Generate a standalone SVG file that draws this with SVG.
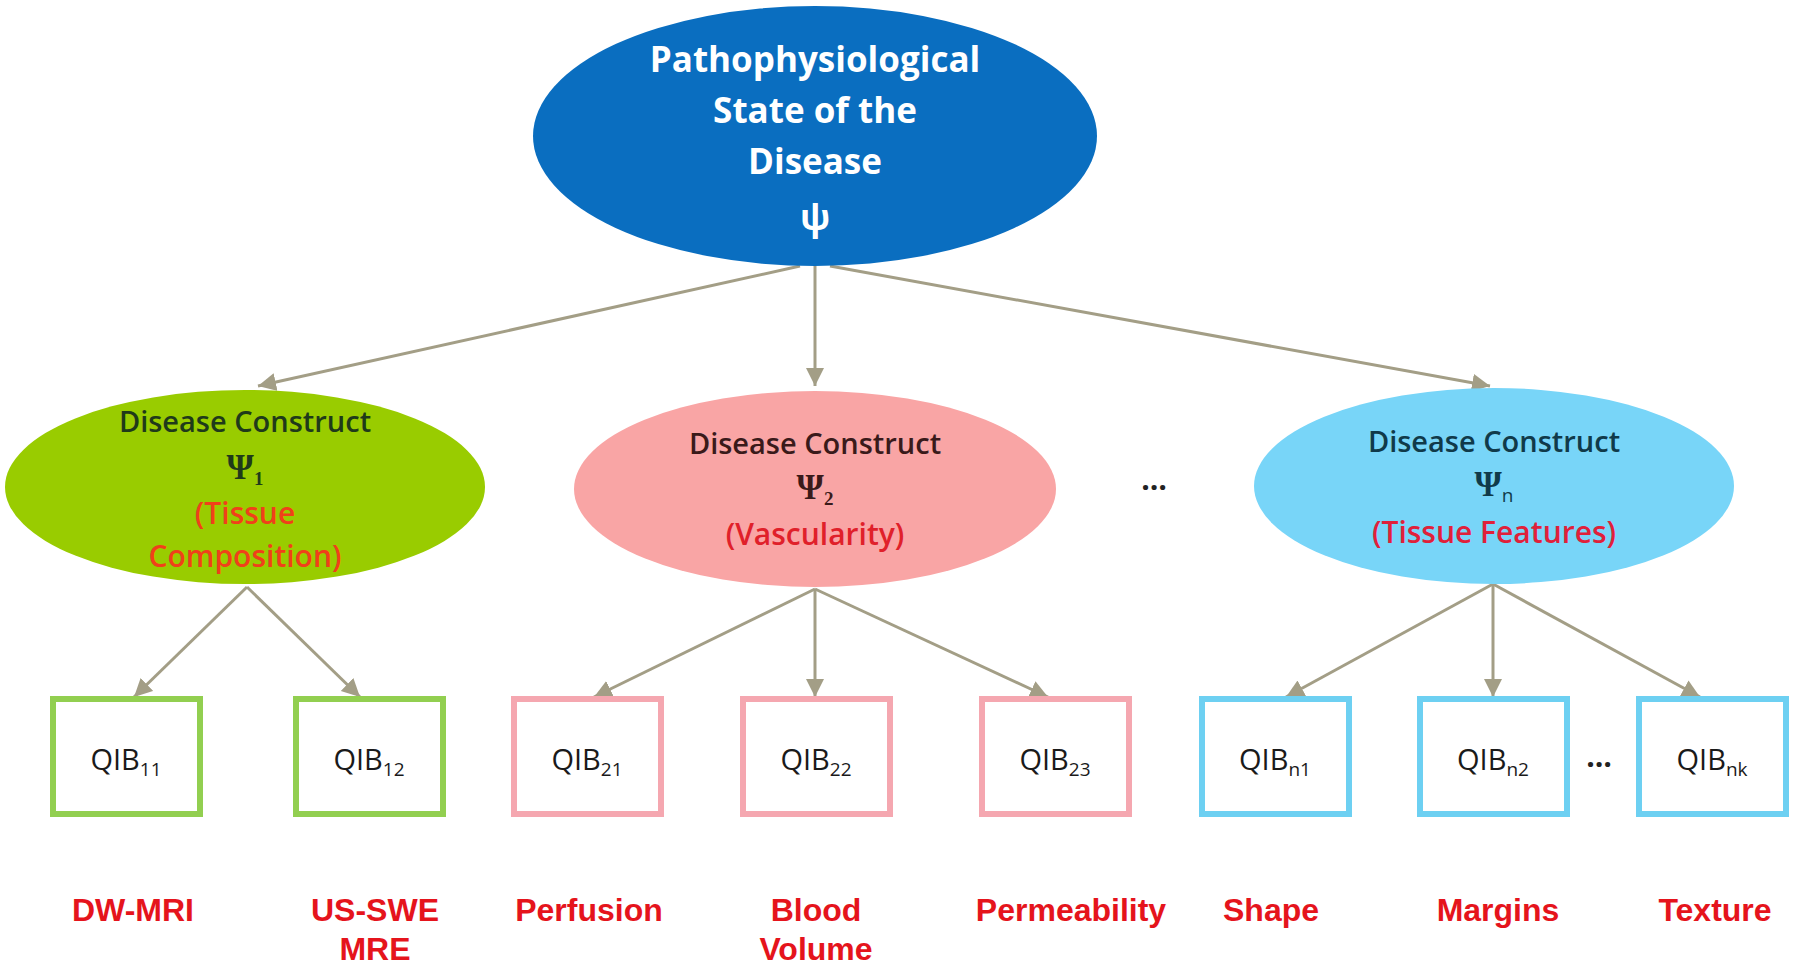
<svg xmlns="http://www.w3.org/2000/svg" width="1800" height="972" viewBox="0 0 1800 972">
<defs>
<marker id="arr" markerUnits="userSpaceOnUse" markerWidth="22" markerHeight="22" refX="18" refY="9" orient="auto">
<path d="M0,0 L18,9 L0,18 Z" fill="#a39e86"/>
</marker>
<style>
.conn{stroke:#a39e86;stroke-width:3;fill:none}
.dc{font-family:"Open Sans","Liberation Sans",sans-serif;font-size:29px;font-weight:600;text-anchor:middle}
.psi{font-family:"Liberation Serif",serif;font-size:35px;font-weight:bold;text-anchor:middle}
.sub{font-size:19px}
.lbl{font-family:"Open Sans","Liberation Sans",sans-serif;font-size:30px;font-weight:600;text-anchor:middle}
.box{fill:#fff;stroke-width:6}
.qib{font-family:"Open Sans","Liberation Sans",sans-serif;font-size:29px;fill:#1a1a1a;text-anchor:middle}
.qsub{font-size:19px}
.bl{font-family:"Liberation Sans",sans-serif;font-size:32px;font-weight:bold;fill:#e5141c;text-anchor:middle}
.dots{font-family:"Open Sans","Liberation Sans",sans-serif;font-size:30px;font-weight:bold;fill:#222;text-anchor:middle}
</style>
</defs>
<rect width="1800" height="972" fill="#fff"/>
<g id="connectors">
<line class="conn" x1="800" y1="266" x2="258" y2="386" marker-end="url(#arr)"/>
<line class="conn" x1="815" y1="266" x2="815" y2="386" marker-end="url(#arr)"/>
<line class="conn" x1="830" y1="266" x2="1490" y2="386" marker-end="url(#arr)"/>
<line class="conn" x1="247" y1="587" x2="134" y2="697" marker-end="url(#arr)"/>
<line class="conn" x1="247" y1="587" x2="360" y2="697" marker-end="url(#arr)"/>
<line class="conn" x1="815" y1="589" x2="594" y2="697" marker-end="url(#arr)"/>
<line class="conn" x1="815" y1="589" x2="815" y2="697" marker-end="url(#arr)"/>
<line class="conn" x1="815" y1="589" x2="1048" y2="697" marker-end="url(#arr)"/>
<line class="conn" x1="1493" y1="584" x2="1286" y2="697" marker-end="url(#arr)"/>
<line class="conn" x1="1493" y1="584" x2="1493" y2="697" marker-end="url(#arr)"/>
<line class="conn" x1="1493" y1="584" x2="1700" y2="697" marker-end="url(#arr)"/>
</g>
<g id="root">
<ellipse cx="815" cy="136" rx="282" ry="130" fill="#0a6ec0"/>
<g font-family="'Open Sans','Liberation Sans',sans-serif" font-weight="bold" font-size="35" fill="#fff" text-anchor="middle">
<text x="815" y="72">Pathophysiological</text>
<text x="815" y="123">State of the</text>
<text x="815" y="174">Disease</text>
<text x="815" y="230" font-size="36">ψ</text>
</g>
</g>
<g id="construct1">
<ellipse cx="245" cy="487" rx="240" ry="97" fill="#99cc00"/>
<text class="dc" x="245" y="432" fill="#1f3a1a">Disease Construct</text>
<text class="psi" x="245" y="479" fill="#1f3a1a">Ψ<tspan class="sub" dy="6">1</tspan></text>
<text class="lbl" x="245" y="524" fill="#f0401a">(Tissue</text>
<text class="lbl" x="245" y="567" fill="#f0401a">Composition)</text>
</g>
<g id="construct2">
<ellipse cx="815" cy="489" rx="241" ry="98" fill="#f9a5a5"/>
<text class="dc" x="815" y="454" fill="#3a1a1a">Disease Construct</text>
<text class="psi" x="815" y="499" fill="#3a1a1a">Ψ<tspan class="sub" dy="6">2</tspan></text>
<text class="lbl" x="815" y="545" fill="#e0202a">(Vascularity)</text>
</g>
<text class="dots" x="1154" y="490">…</text>
<g id="construct3">
<ellipse cx="1494" cy="486" rx="240" ry="98" fill="#78d5f8"/>
<text class="dc" x="1494" y="452" fill="#103a4a">Disease Construct</text>
<text class="psi" x="1494" y="496" fill="#103a4a">Ψ<tspan class="sub" dy="6" font-family="'Open Sans',sans-serif" font-weight="normal">n</tspan></text>
<text class="lbl" x="1494" y="543" fill="#e0203a">(Tissue Features)</text>
</g>
<g id="qib11"><rect class="box" x="53" y="699" width="147" height="115" stroke="#92cf50"/><text class="qib" x="126" y="770">QIB<tspan class="qsub" dy="6">11</tspan></text></g>
<g id="qib12"><rect class="box" x="296" y="699" width="147" height="115" stroke="#92cf50"/><text class="qib" x="369" y="770">QIB<tspan class="qsub" dy="6">12</tspan></text></g>
<g id="qib21"><rect class="box" x="514" y="699" width="147" height="115" stroke="#f5a7b0"/><text class="qib" x="587" y="770">QIB<tspan class="qsub" dy="6">21</tspan></text></g>
<g id="qib22"><rect class="box" x="743" y="699" width="147" height="115" stroke="#f5a7b0"/><text class="qib" x="816" y="770">QIB<tspan class="qsub" dy="6">22</tspan></text></g>
<g id="qib23"><rect class="box" x="982" y="699" width="147" height="115" stroke="#f5a7b0"/><text class="qib" x="1055" y="770">QIB<tspan class="qsub" dy="6">23</tspan></text></g>
<g id="qibn1"><rect class="box" x="1202" y="699" width="147" height="115" stroke="#6dd0f2"/><text class="qib" x="1275" y="770">QIB<tspan class="qsub" dy="6">n1</tspan></text></g>
<g id="qibn2"><rect class="box" x="1420" y="699" width="147" height="115" stroke="#6dd0f2"/><text class="qib" x="1493" y="770">QIB<tspan class="qsub" dy="6">n2</tspan></text></g>
<text class="dots" x="1599" y="767">…</text>
<g id="qibnk"><rect class="box" x="1639" y="699" width="147" height="115" stroke="#6dd0f2"/><text class="qib" x="1712" y="770">QIB<tspan class="qsub" dy="6">nk</tspan></text></g>
<g id="labels">
<text class="bl" x="133" y="921">DW-MRI</text>
<text class="bl" x="375" y="921">US-SWE</text>
<text class="bl" x="375" y="960">MRE</text>
<text class="bl" x="589" y="921">Perfusion</text>
<text class="bl" x="816" y="921">Blood</text>
<text class="bl" x="816" y="960">Volume</text>
<text class="bl" x="1071" y="921">Permeability</text>
<text class="bl" x="1271" y="921">Shape</text>
<text class="bl" x="1498" y="921">Margins</text>
<text class="bl" x="1715" y="921">Texture</text>
</g>
</svg>
